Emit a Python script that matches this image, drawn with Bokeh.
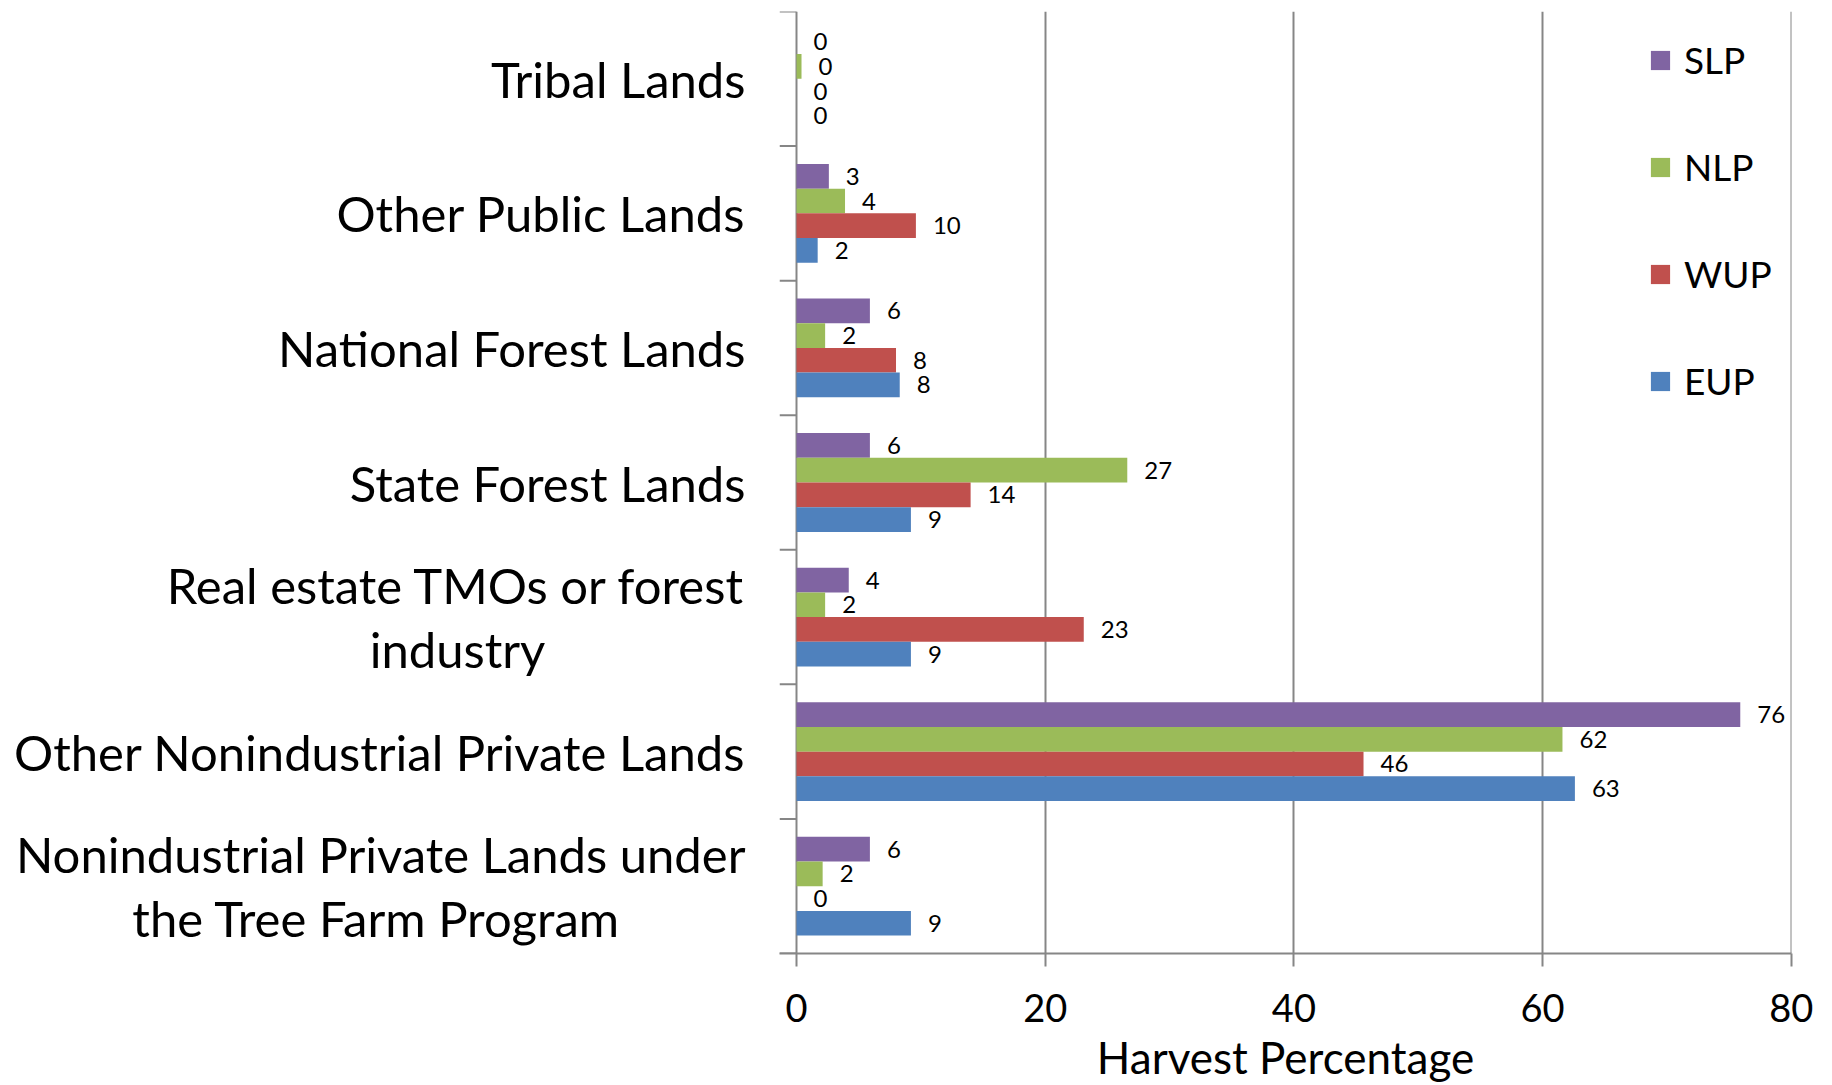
from bokeh.plotting import figure
from bokeh.layouts import row
from bokeh.models import ColumnDataSource, FixedTicker, Legend, LegendItem, Range1d
from bokeh.core.properties import value
from bokeh.embed import file_html
from bokeh.resources import INLINE

# categories listed bottom -> top
categories = [
    "Nonindustrial Private Lands under the Tree Farm Program",
    "Other Nonindustrial Private Lands",
    "Real estate TMOs or forest industry",
    "State Forest Lands",
    "National Forest Lands",
    "Other Public Lands",
    "Tribal Lands",
]
category_lines = [
    ["Nonindustrial Private Lands under", "the Tree Farm Program"],
    ["Other Nonindustrial Private Lands"],
    ["Real estate TMOs or forest", "industry"],
    ["State Forest Lands"],
    ["National Forest Lands"],
    ["Other Public Lands"],
    ["Tribal Lands"],
]
series_names = ["SLP", "NLP", "WUP", "EUP"]
slp = [5.9, 75.9, 4.2, 5.9, 5.9, 2.6, 0.0]
nlp = [2.1, 61.6, 2.3, 26.6, 2.3, 3.9, 0.4]
wup = [0.0, 45.6, 23.1, 14.0, 8.0, 9.6, 0.0]
eup = [9.2, 62.6, 9.2, 9.2, 8.3, 1.7, 0.0]
series_colors = ["#8064A2", "#9BBB59", "#C0504D", "#4F81BD"]
x_ticks = [0, 20, 40, 60, 80]

FONT = "Lato"
GRID = "#868686"
bar_h = 0.1835
offsets = [1.5, 0.5, -0.5, -1.5]
n = len(categories)
TOP, BOTTOM, H = 11, 131, 1085
LEFT_W = 779

yr = Range1d(0, n)

# ---- left panel: category labels ----
lab = figure(width=LEFT_W, height=H, output_backend="svg", toolbar_location=None,
             x_range=Range1d(0, LEFT_W), y_range=yr,
             min_border_left=0, min_border_right=0, min_border_top=TOP, min_border_bottom=BOTTOM)
lab.axis.visible = False
lab.grid.grid_line_color = None
lab.outline_line_color = None

line_gap = 0.2376
right_edge = 745
second_centers = {0: 376, 2: 457}
lx, ly, lt, la = [], [], [], []
for i, lines in enumerate(category_lines):
    if len(lines) == 1:
        lx.append(right_edge); ly.append(i + 0.5); lt.append(lines[0]); la.append("right")
    else:
        lx.append(right_edge); ly.append(i + 0.5 + line_gap); lt.append(lines[0]); la.append("right")
        lx.append(second_centers[i]); ly.append(i + 0.5 - line_gap); lt.append(lines[1]); la.append("center")
lab.text(x="x", y="y", text="t", text_align="a", source=ColumnDataSource(dict(x=lx, y=ly, t=lt, a=la)),
         text_baseline="middle", text_font=value(FONT), text_font_size="49px", text_color="black")

# ---- main chart ----
p = figure(width=1832 - LEFT_W, height=H, output_backend="svg", toolbar_location=None,
           x_range=Range1d(-1.37, 80.02), y_range=yr,
           min_border_left=0, min_border_right=41, min_border_top=TOP, min_border_bottom=BOTTOM)
p.outline_line_color = None
p.background_fill_color = "white"
p.yaxis.visible = False
p.ygrid.grid_line_color = None

p.xaxis.ticker = FixedTicker(ticks=x_ticks)
p.xgrid.ticker = FixedTicker(ticks=x_ticks)
p.xgrid.grid_line_color = GRID
p.xgrid.grid_line_width = 2
p.xaxis.axis_line_color = GRID
p.xaxis.axis_line_width = 2
p.xaxis.major_tick_line_color = GRID
p.xaxis.major_tick_line_width = 2
p.xaxis.major_tick_in = 0
p.xaxis.major_tick_out = 13
p.xaxis.minor_tick_line_color = None
p.xaxis.major_label_text_font = FONT
p.xaxis.major_label_text_font_size = "38px"
p.xaxis.major_label_text_color = "black"
p.xaxis.major_label_standoff = 27
p.xaxis.axis_label = "Harvest Percentage"
p.xaxis.axis_label_text_font = FONT
p.xaxis.axis_label_text_font_size = "44px"
p.xaxis.axis_label_text_font_style = "normal"
p.xaxis.axis_label_text_color = "black"
p.xaxis.axis_label_standoff = 6

# category boundary ticks on the value-0 axis
p.segment(x0=[-1.37] * (n + 1), x1=[0] * (n + 1), y0=list(range(n + 1)), y1=list(range(n + 1)),
          line_color=GRID, line_width=2)

renderers = []
for name, vals, color, off in zip(series_names, [slp, nlp, wup, eup], series_colors, offsets):
    ys = [i + 0.5 + off * bar_h for i in range(n)]
    src = ColumnDataSource(dict(y=ys, v=vals, lbl=[str(int(round(v))) for v in vals]))
    r = p.hbar(y="y", left=0, right="v", height=bar_h, source=src, fill_color=color, line_color=None)
    p.text(x="v", y="y", text="lbl", source=src, x_offset=17, text_baseline="middle", text_align="left",
           text_font=value(FONT), text_font_size="24px", text_color="black")
    renderers.append((name, r))

legend = Legend(items=[LegendItem(label=nm, renderers=[r]) for nm, r in renderers],
                location=(869, 550), orientation="vertical",
                glyph_width=24, glyph_height=24, label_standoff=12, spacing=62,
                padding=0, margin=0, border_line_color=None, background_fill_alpha=0,
                label_text_font=FONT, label_text_font_size="37px", label_text_color="black")
p.add_layout(legend)

layout = row(lab, p, spacing=0)
open("out.html", "w").write(file_html(layout, INLINE))
